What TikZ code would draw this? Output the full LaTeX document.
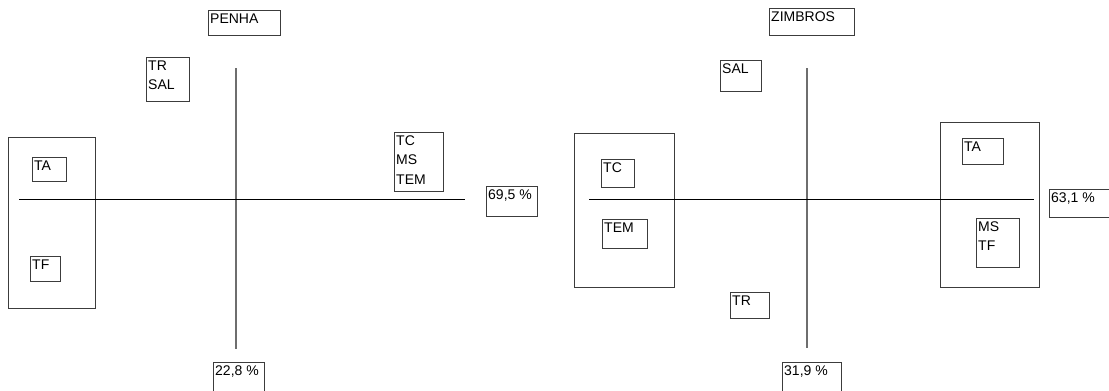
\documentclass[tikz,border=0pt]{standalone}
\usepackage{fontspec}
\setmainfont{Liberation Sans}
\definecolor{boxcol}{RGB}{60,60,60}
\definecolor{vcol}{RGB}{110,110,110}
\tikzset{
  box/.style={draw=boxcol, line width=1pt, rectangle, anchor=north west, inner sep=0pt},
  txt/.style={anchor=north west, inner xsep=2pt, inner ysep=3.5pt, align=left,
              font=\fontsize{14}{19.5}\selectfont},
  vaxis/.style={draw=vcol, line width=1.2pt},
  haxis/.style={draw=black, line width=1pt}
}
\newcommand\bx[6]{%
  \node[box, minimum width=#4pt, minimum height=#5pt] (#1) at (#2,#3) {};
  \node[txt] (#1t) at (#1.north west) {#6};}
\begin{document}
\begin{tikzpicture}[x=1pt,y=-1pt]
\useasboundingbox (0,0) rectangle (1109,391);
% left panel
\coordinate (v1a) at (236,68);
\coordinate (v1b) at (236,349);
\coordinate (h1a) at (19,199);
\coordinate (h1b) at (465,199);
\bx{bigLa}{8}{137}{87}{171}{}
\draw[vaxis] (v1a) -- (v1b);
\draw[haxis] (h1a) -- (h1b);
\bx{penha}{208}{10}{72}{25}{PENHA}
\bx{trsal}{146}{57}{43}{44}{TR\\SAL}
\bx{taL}{32}{157}{34}{24}{TA}
\bx{tfL}{30}{256}{30}{25}{TF}
\bx{tcmstem}{394}{132}{49}{59}{TC\\MS\\TEM}
\bx{pa}{486}{186}{51}{30}{69,5 \%}
\bx{pb}{213}{362}{51}{40}{22,8 \%}
% right panel
\coordinate (v2a) at (807,68);
\coordinate (v2b) at (807,348);
\coordinate (h2a) at (589,199);
\coordinate (h2b) at (1034,199);
\bx{bigRa}{574}{133}{100}{154}{}
\bx{bigRb}{940}{122}{99}{165}{}
\draw[vaxis] (v2a) -- (v2b);
\draw[haxis] (h2a) -- (h2b);
\bx{zimbros}{769}{8}{85}{27}{ZIMBROS}
\bx{sal}{720}{60}{41}{31}{SAL}
\bx{tcR}{601}{159}{33}{28}{TC}
\bx{temR}{602}{219}{45}{29}{TEM}
\bx{trR}{730}{292}{39}{26}{TR}
\bx{taR}{962}{138}{41}{26}{TA}
\bx{mstf}{976}{218}{43}{49}{MS\\TF}
\bx{pc}{1049}{189}{65}{28}{63,1 \%}
\bx{pd}{782}{362}{59}{40}{31,9 \%}
\end{tikzpicture}
\end{document}
